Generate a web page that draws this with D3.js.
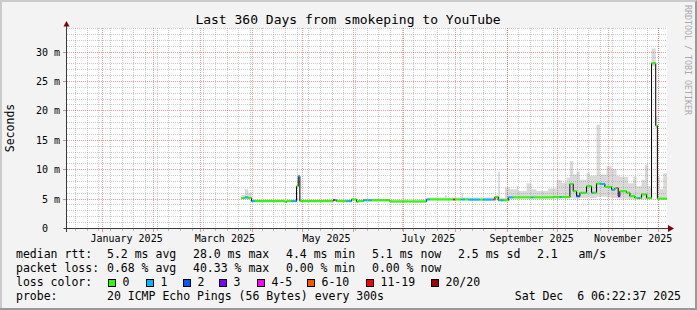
<!DOCTYPE html>
<html>
<head>
<meta charset="utf-8">
<script src="https://cdn.jsdelivr.net/npm/d3@7"></script>
<style>
html, body { margin: 0; padding: 0; background: #f3f3f3; }
svg { display: block; font-family: "DejaVu Sans Mono", monospace; }
.pre { white-space: pre; }
</style>
</head>
<body>
<svg id="chart"></svg>
<script>
// graph window
const startTime = new Date(2024, 11, 11, 6, 22, 37);
const endTime = new Date(2025, 11, 6, 6, 22, 37);

// median rtt in ms, step starts + loss class index
const medDates = [
	"2025-03-26", "2025-03-28", "2025-03-30", "2025-04-01", "2025-04-03", "2025-04-21", "2025-04-22", "2025-04-25", "2025-04-28", "2025-04-29",
	"2025-04-30", "2025-05-20", "2025-05-21", "2025-05-22", "2025-05-28", "2025-05-31", "2025-06-03", "2025-06-04", "2025-06-07", "2025-06-09",
	"2025-06-10", "2025-06-12", "2025-06-23", "2025-07-15", "2025-07-17", "2025-07-31", "2025-08-01", "2025-08-05", "2025-08-07", "2025-08-09",
	"2025-08-16", "2025-08-18", "2025-08-24", "2025-08-25", "2025-08-27", "2025-08-28", "2025-08-30", "2025-09-02", "2025-09-05", "2025-09-16",
	"2025-09-17", "2025-09-29", "2025-10-03", "2025-10-04", "2025-10-09", "2025-10-11", "2025-10-13", "2025-10-15", "2025-10-19", "2025-10-22",
	"2025-10-23", "2025-10-25", "2025-10-27", "2025-10-30", "2025-11-03", "2025-11-05", "2025-11-06", "2025-11-07", "2025-11-08", "2025-11-12",
	"2025-11-14", "2025-11-17", "2025-11-19", "2025-11-20", "2025-11-21", "2025-11-24", "2025-11-27", "2025-11-29T12:00", "2025-11-30T12:00"
];
const medValues = [
	5.1, 5.2, 5.1, 4.55, 4.55, 4.4, 4.55, 4.55, 7.1, 8.8,
	4.55, 4.75, 4.75, 4.55, 4.55, 4.85, 4.45, 4.55, 4.7, 4.7,
	4.7, 4.7, 4.5, 4.85, 4.85, 4.85, 4.85, 4.85, 4.85, 4.83,
	4.83, 4.83, 4.83, 5.3, 4.7, 4.7, 4.7, 5.2, 5.2, 5.2,
	5.2, 5.25, 5.25, 5.25, 7.5, 6.25, 5.4, 6.0, 7.1, 6.0,
	6.0, 7.55, 7.5, 7.0, 6.5, 6.8, 6.8, 5.4, 6.25, 6.0,
	5.4, 5.1, 5.1, 5.1, 5.7, 5.1, 28.0, 17.4, 5.0
];
const medLoss = [
	0, 1, 0, 1, 0, 0, 0, 1, 0, 1,
	0, 6, 1, 0, 1, 0, 0, 0, 1, 0,
	1, 0, 0, 1, 0, 6, 0, 1, 0, 1,
	0, 1, 5, 0, 0, 1, 0, 1, 0, 1,
	0, 0, 1, 0, 0, 0, 2, 0, 0, 1,
	0, 0, 1, 0, 1, 0, 5, 3, 0, 0,
	0, 0, 1, 0, 0, 0, 0, 0, 0
];

// smoke band (lowest / highest ping, ms)
const smokeDates = [
	"2025-03-26", "2025-03-28", "2025-03-30", "2025-04-01", "2025-04-21", "2025-04-22", "2025-04-28", "2025-04-29", "2025-04-30", "2025-05-20",
	"2025-05-22", "2025-05-31", "2025-06-03", "2025-06-04", "2025-06-07", "2025-06-23", "2025-07-15", "2025-07-26", "2025-07-27", "2025-08-05",
	"2025-08-06", "2025-08-25", "2025-08-27", "2025-08-28", "2025-08-31", "2025-09-03", "2025-09-07", "2025-09-08", "2025-09-13", "2025-09-16",
	"2025-09-19", "2025-09-26", "2025-10-01", "2025-10-04", "2025-10-07", "2025-10-09", "2025-10-11", "2025-10-13", "2025-10-15", "2025-10-19",
	"2025-10-21", "2025-10-25", "2025-10-27", "2025-10-31", "2025-11-03", "2025-11-06", "2025-11-08", "2025-11-13", "2025-11-16", "2025-11-18",
	"2025-11-21", "2025-11-23", "2025-11-25", "2025-11-27", "2025-11-29T12:00", "2025-11-30T12:00", "2025-12-02", "2025-12-04"
];
const smokeLo = [
	4.9, 4.9, 4.9, 4.4, 4.3, 4.4, 6.9, 8.6, 4.4, 4.6,
	4.4, 4.7, 4.3, 4.4, 4.55, 4.35, 4.7, 4.7, 4.7, 4.7,
	4.7, 4.7, 4.6, 4.6, 4.6, 5.0, 5.0, 5.0, 5.0, 5.0,
	5.0, 5.0, 5.0, 5.0, 5.0, 5.1, 5.0, 5.0, 5.1, 5.2,
	5.1, 5.3, 5.3, 5.2, 5.1, 5.0, 5.0, 4.9, 4.9, 4.9,
	4.9, 4.9, 4.9, 27.5, 17.0, 4.8, 4.8, 4.8
];
const smokeHi = [
	5.6, 6.6, 6.0, 4.8, 4.6, 4.8, 7.3, 9.0, 4.8, 5.0,
	4.8, 5.1, 4.7, 4.8, 4.95, 4.75, 5.2, 5.6, 5.2, 6.0,
	5.2, 5.5, 9.6, 5.1, 6.9, 6.6, 7.1, 6.3, 7.6, 6.6,
	6.3, 6.7, 8.2, 7.7, 8.6, 11.4, 9.1, 9.6, 8.2, 9.4,
	8.9, 17.6, 9.1, 10.5, 10.0, 8.9, 8.7, 7.6, 8.7, 7.1,
	8.2, 10.8, 7.1, 30.5, 19.0, 8.7, 6.6, 9.3
];

// axis ticks and labels
const yTickValues = [0, 5, 10, 15, 20, 25, 30];
const yTickLabels = ["0  ", "5 m", "10 m", "15 m", "20 m", "25 m", "30 m"];
const xTickMonths = ["2025-01-01", "2025-03-01", "2025-05-01", "2025-07-01", "2025-09-01", "2025-11-01"];
const xTickLabels = ["January 2025", "March 2025", "May 2025", "July 2025", "September 2025", "November 2025"];

// legend
const lossLabels = ["0", "1", "2", "3", "4-5", "6-10", "11-19", "20/20"];
const lossColors = ["#26ff00", "#00b8ff", "#0059ff", "#7e00ff", "#ff00ff", "#ff5500", "#ff0000", "#a10000"];
const rttStats = ["5.2 ms avg", "28.0 ms max", "4.4 ms min", "5.1 ms now", "2.5 ms sd", "2.1   am/s"];
const lossStats = ["0.68 % avg", "40.33 % max", "0.00 % min", "0.00 % now"];
const probeText = "20 ICMP Echo Pings (56 Bytes) every 300s";
const stampText = "Sat Dec  6 06:22:37 2025";
const titleText = "Last 360 Days from smokeping to YouTube";

// layout
const width = 697, height = 310;
const plotLeft = 67, plotTop = 28, plotWidth = 600, plotHeight = 200;
const statX = [107, 193, 286, 372, 458, 537];
const boxX = [108, 146, 183, 219, 257, 307, 366, 431];
const gridMinor = "rgba(140,140,140,0.45)", gridMajor = "rgba(230,60,60,0.5)";

const parseDate = s => new Date(s.length === 10 ? s + "T00:00:00" : s);
const px = v => Math.round(v) + 0.5;

const x = d3.scaleTime([startTime, endTime], [plotLeft, plotLeft + plotWidth]);
const y = d3.scaleLinear([0, 34], [plotTop + plotHeight, plotTop]);

const svg = d3.select("#chart")
	.attr("width", width)
	.attr("height", height)
	.attr("viewBox", [0, 0, width, height]);

// background + shaded frame
svg.append("rect").attr("width", width).attr("height", height).attr("fill", "#f3f3f3");
svg.append("path").attr("fill", "#cbcbcb")
	.attr("d", `M0,0H${width}V2H2V${height}H0Z`);
svg.append("path").attr("fill", "#999999")
	.attr("d", `M${width},0V${height}H0V${height - 2}H${width - 2}V2Z`);

// canvas
svg.append("rect")
	.attr("x", plotLeft).attr("y", plotTop)
	.attr("width", plotWidth).attr("height", plotHeight)
	.attr("fill", "#ffffff");

// smoke
const smoke = smokeDates.map((d, i) => ({ date: parseDate(d), lo: smokeLo[i], hi: smokeHi[i] }));
smoke.push({ date: endTime, lo: smokeLo[smokeLo.length - 1], hi: smokeHi[smokeHi.length - 1] });

svg.append("path")
	.datum(smoke)
	.attr("fill", "#d9d9d9")
	.attr("d", d3.area()
		.curve(d3.curveStepAfter)
		.x(d => x(d.date))
		.y0(d => y(d.lo))
		.y1(d => y(d.hi)));

// grid
const grid = svg.append("g").attr("stroke-dasharray", "1,1").attr("stroke-width", 1);
const weeks = d3.timeMonday.range(startTime, endTime);
const months = d3.timeMonth.range(d3.timeMonth.ceil(startTime), endTime);

grid.selectAll(".vminor").data(weeks).join("line")
	.attr("x1", d => px(x(d))).attr("x2", d => px(x(d)))
	.attr("y1", plotTop).attr("y2", plotTop + plotHeight)
	.attr("stroke", gridMinor);

d3.range(1, 35).filter(v => v % 5 !== 0).forEach(v => {
	grid.append("line")
		.attr("x1", plotLeft).attr("x2", plotLeft + plotWidth)
		.attr("y1", px(y(v))).attr("y2", px(y(v)))
		.attr("stroke", gridMinor);
});

grid.selectAll(".vmajor").data(months).join("line")
	.attr("x1", d => px(x(d))).attr("x2", d => px(x(d)))
	.attr("y1", plotTop).attr("y2", plotTop + plotHeight)
	.attr("stroke", gridMajor);

yTickValues.slice(1).forEach(v => {
	grid.append("line")
		.attr("x1", plotLeft).attr("x2", plotLeft + plotWidth)
		.attr("y1", px(y(v))).attr("y2", px(y(v)))
		.attr("stroke", gridMajor);
});

// tick marks outside the plot
const ticks = svg.append("g").attr("stroke-width", 1);
weeks.forEach(d => {
	ticks.append("line")
		.attr("x1", px(x(d))).attr("x2", px(x(d)))
		.attr("y1", 228).attr("y2", 231)
		.attr("stroke", "#bbbbbb");
});
months.forEach(d => {
	ticks.append("line")
		.attr("x1", px(x(d))).attr("x2", px(x(d)))
		.attr("y1", 228).attr("y2", 232)
		.attr("stroke", "#e89a9a");
});
yTickValues.forEach(v => {
	ticks.append("line")
		.attr("x1", 63).attr("x2", plotLeft)
		.attr("y1", px(y(v))).attr("y2", px(y(v)))
		.attr("stroke", "#c89090");
});

// median: black step line, then loss coloured runs
const median = medDates.map((d, i) => ({ date: parseDate(d), value: medValues[i], loss: medLoss[i] }));
median.forEach((d, i) => { d.next = i < median.length - 1 ? median[i + 1].date : endTime; });

svg.append("path")
	.datum(median.concat([{ date: endTime, value: medValues[medValues.length - 1] }]))
	.attr("fill", "none")
	.attr("stroke", "#000000")
	.attr("stroke-width", 1)
	.attr("d", d3.line()
		.curve(d3.curveStepAfter)
		.x(d => x(d.date))
		.y(d => y(d.value)));

svg.append("g").selectAll("line").data(median).join("line")
	.attr("x1", d => x(d.date))
	.attr("x2", d => x(d.next))
	.attr("y1", d => y(d.value))
	.attr("y2", d => y(d.value))
	.attr("stroke", d => lossColors[d.loss])
	.attr("stroke-width", 2);

// axes + arrows
const axisColor = "#3a3a3a", arrowColor = "#7f0000";
svg.append("line")
	.attr("x1", 64).attr("x2", 670)
	.attr("y1", px(y(0))).attr("y2", px(y(0)))
	.attr("stroke", axisColor);
svg.append("line")
	.attr("x1", plotLeft - 0.5).attr("x2", plotLeft - 0.5)
	.attr("y1", 232).attr("y2", 24)
	.attr("stroke", axisColor);
svg.append("path").attr("fill", arrowColor)
	.attr("d", "M668,225L674,228.5L668,232Z");
svg.append("path").attr("fill", arrowColor)
	.attr("d", "M63.5,26.5L66.5,21L69.5,26.5Z");

// y tick labels
svg.append("g")
	.attr("font-size", "10px")
	.attr("text-anchor", "end")
	.selectAll("text").data(yTickValues).join("text")
	.attr("class", "pre")
	.attr("x", 60)
	.attr("y", d => px(y(d)) + 3.5)
	.text((d, i) => yTickLabels[i]);

// x tick labels, centred mid-period like rrdtool
svg.append("g")
	.attr("font-size", "10px")
	.attr("text-anchor", "middle")
	.selectAll("text").data(xTickMonths).join("text")
	.attr("x", d => x(d3.timeDay.offset(parseDate(d), 15)))
	.attr("y", 241.5)
	.text((d, i) => xTickLabels[i]);

// title + axis title + watermark
svg.append("text")
	.attr("x", 348).attr("y", 24)
	.attr("text-anchor", "middle")
	.attr("font-size", "13px")
	.text(titleText);

svg.append("text")
	.attr("transform", "translate(14,128) rotate(-90)")
	.attr("text-anchor", "middle")
	.attr("font-size", "11.5px")
	.text("Seconds");

svg.append("text")
	.attr("transform", "translate(684.5,5) rotate(90)")
	.attr("font-size", "8.3px")
	.attr("fill", "#aaaaaa")
	.text("RRDTOOL / TOBI OETIKER");

// legend
const legend = svg.append("g").attr("font-size", "11.5px");
const rowY = [258, 272, 286, 300];

legend.append("text").attr("x", 16).attr("y", rowY[0]).text("median rtt:");
rttStats.forEach((s, i) => {
	legend.append("text").attr("class", "pre").attr("x", statX[i]).attr("y", rowY[0]).text(s);
});

legend.append("text").attr("x", 16).attr("y", rowY[1]).text("packet loss:");
lossStats.forEach((s, i) => {
	legend.append("text").attr("class", "pre").attr("x", statX[i]).attr("y", rowY[1]).text(s);
});

legend.append("text").attr("x", 16).attr("y", rowY[2]).text("loss color:");
lossLabels.forEach((s, i) => {
	legend.append("rect")
		.attr("x", boxX[i] + 0.5).attr("y", 279.5)
		.attr("width", 7).attr("height", 7)
		.attr("fill", lossColors[i])
		.attr("stroke", "#000000");
	legend.append("text").attr("x", boxX[i] + 14.5).attr("y", rowY[2]).text(s);
});

legend.append("text").attr("x", 16).attr("y", rowY[3]).text("probe:");
legend.append("text").attr("x", statX[0]).attr("y", rowY[3]).text(probeText);
legend.append("text").attr("class", "pre")
	.attr("x", 681).attr("y", rowY[3])
	.attr("text-anchor", "end")
	.text(stampText);
</script>
</body>
</html>
